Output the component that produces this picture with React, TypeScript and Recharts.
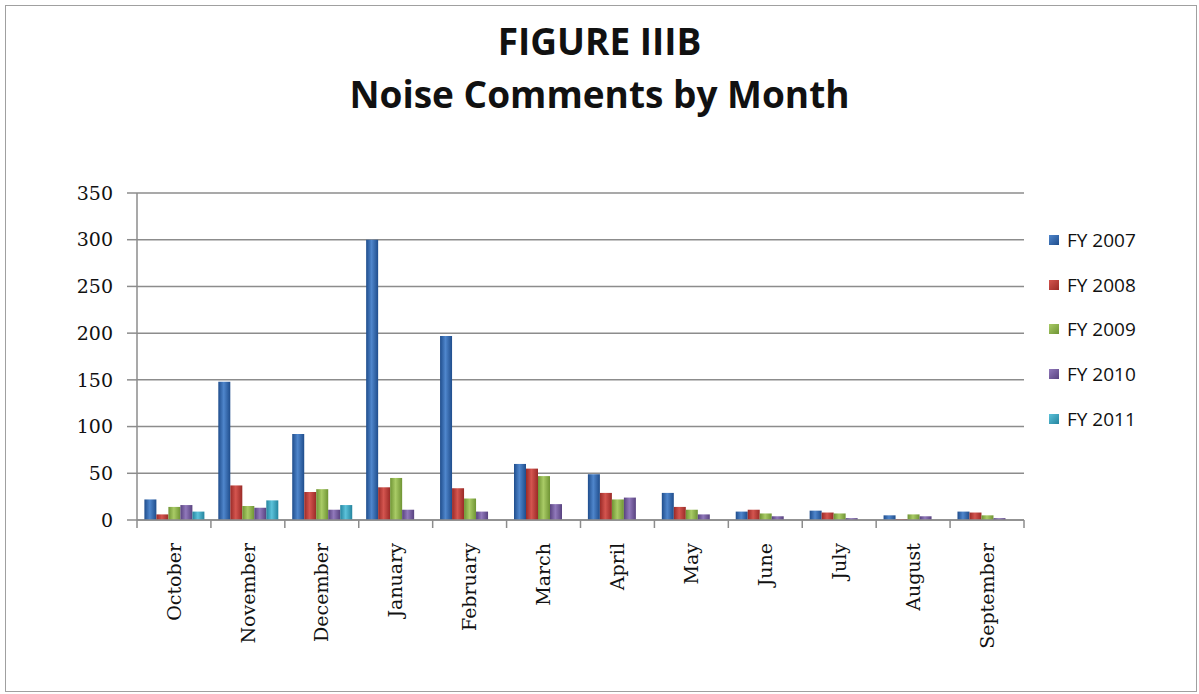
import React from "react";
import { BarChart, Bar, XAxis, YAxis, CartesianGrid } from "recharts";

const months = [
  "October", "November", "December", "January", "February", "March",
  "April", "May", "June", "July", "August", "September",
];
const fy2007 = [22, 148, 92, 300, 197, 60, 49, 29, 9, 10, 5, 9];
const fy2008 = [6, 37, 30, 35, 34, 55, 29, 14, 11, 8, 1, 8];
const fy2009 = [14, 15, 33, 45, 23, 47, 22, 11, 7, 7, 6, 5];
const fy2010 = [16, 13, 11, 11, 9, 17, 24, 6, 4, 2, 4, 2];
const fy2011 = [9, 21, 16, 0, 0, 0, 0, 0, 0, 0, 0, 0];
const yTicks = [0, 50, 100, 150, 200, 250, 300, 350];

const series = [
  { key: "fy2007", name: "FY 2007", edge: "#1f4d8c", mid: "#4f86cc" },
  { key: "fy2008", name: "FY 2008", edge: "#9a2a27", mid: "#d4554f" },
  { key: "fy2009", name: "FY 2009", edge: "#6f9434", mid: "#a9cb66" },
  { key: "fy2010", name: "FY 2010", edge: "#58427f", mid: "#9179bb" },
  { key: "fy2011", name: "FY 2011", edge: "#24849e", mid: "#5cc2da" },
];

const data = months.map((m, i) => ({
  month: m,
  fy2007: fy2007[i],
  fy2008: fy2008[i],
  fy2009: fy2009[i],
  fy2010: fy2010[i],
  fy2011: fy2011[i],
}));

const plotLeft = 137;
const plotRight = 1024;
const band = (plotRight - plotLeft) / months.length;
const axisGray = "#8c8c8c";

function MonthTick(props: any) {
  const { x, y, payload, index } = props;
  return (
    <g>
      {index === 0 && (
        <line x1={x - band / 2} x2={x - band / 2} y1={y - 8} y2={y} stroke={axisGray} strokeWidth={1.5} />
      )}
      <line x1={x + band / 2} x2={x + band / 2} y1={y - 8} y2={y} stroke={axisGray} strokeWidth={1.5} />
      <text
        x={x}
        y={y + 15}
        dy="0.35em"
        transform={`rotate(-90, ${x}, ${y + 15})`}
        textAnchor="end"
        fontFamily="DejaVu Serif"
        fontSize={19}
        fill="#111"
      >
        {payload.value}
      </text>
    </g>
  );
}

function LegendBox() {
  return (
    <div
      style={{
        position: "absolute",
        left: 1049,
        top: 218,
        fontFamily: "Open Sans",
        fontSize: 19,
        color: "#111",
      }}
    >
      {series.map((s) => (
        <div key={s.key} style={{ display: "flex", alignItems: "center", height: 44.6 }}>
          <span
            style={{
              width: 10,
              height: 10,
              marginRight: 8,
              background: `linear-gradient(135deg, ${s.mid}, ${s.edge})`,
            }}
          />
          {s.name}
        </div>
      ))}
    </div>
  );
}

export default function App() {
  return (
    <div
      style={{
        position: "absolute",
        left: 0,
        top: 0,
        width: 1199,
        height: 694,
        background: "#fff",
      }}
    >
      <div
        style={{
          position: "absolute",
          left: 5,
          top: 5,
          width: 1190,
          height: 685,
          border: "1.5px solid #a0a0a0",
        }}
      />
      <div
        style={{
          position: "absolute",
          left: 0,
          width: 1199,
          top: 14,
          textAlign: "center",
          fontFamily: "Open Sans",
          fontWeight: 700,
          fontSize: 37,
          lineHeight: "53px",
          color: "#111",
        }}
      >
        <div>FIGURE IIIB</div>
        <div>Noise Comments by Month</div>
      </div>
      <div style={{ position: "absolute", left: 0, top: 0 }}>
        <BarChart
          width={1199}
          height={694}
          data={data}
          margin={{ top: 193, right: 1199 - plotRight, bottom: 54, left: plotLeft - 70 }}
          barGap={0}
          barCategoryGap="10%"
        >
          <defs>
            {series.map((s) => (
              <linearGradient key={s.key} id={`g-${s.key}`} x1="0" y1="0" x2="1" y2="0">
                <stop offset="0%" stopColor={s.edge} />
                <stop offset="45%" stopColor={s.mid} />
                <stop offset="100%" stopColor={s.edge} />
              </linearGradient>
            ))}
          </defs>
          <CartesianGrid vertical={false} stroke={axisGray} strokeWidth={1.5} />
          <XAxis
            dataKey="month"
            interval={0}
            height={120}
            tickLine={false}
            axisLine={{ stroke: axisGray, strokeWidth: 1.5 }}
            tick={<MonthTick />}
          />
          <YAxis
            width={70}
            domain={[0, 350]}
            ticks={yTicks}
            interval={0}
            tickSize={10}
            tickMargin={14}
            tickLine={{ stroke: axisGray, strokeWidth: 1.5 }}
            axisLine={{ stroke: axisGray, strokeWidth: 1.5 }}
            tick={{ fontFamily: "DejaVu Serif", fontSize: 19, fill: "#111" }}
          />
          {series.map((s) => (
            <Bar
              key={s.key}
              dataKey={s.key}
              name={s.name}
              fill={`url(#g-${s.key})`}
              isAnimationActive={false}
            />
          ))}
        </BarChart>
      </div>
      <LegendBox />
    </div>
  );
}
